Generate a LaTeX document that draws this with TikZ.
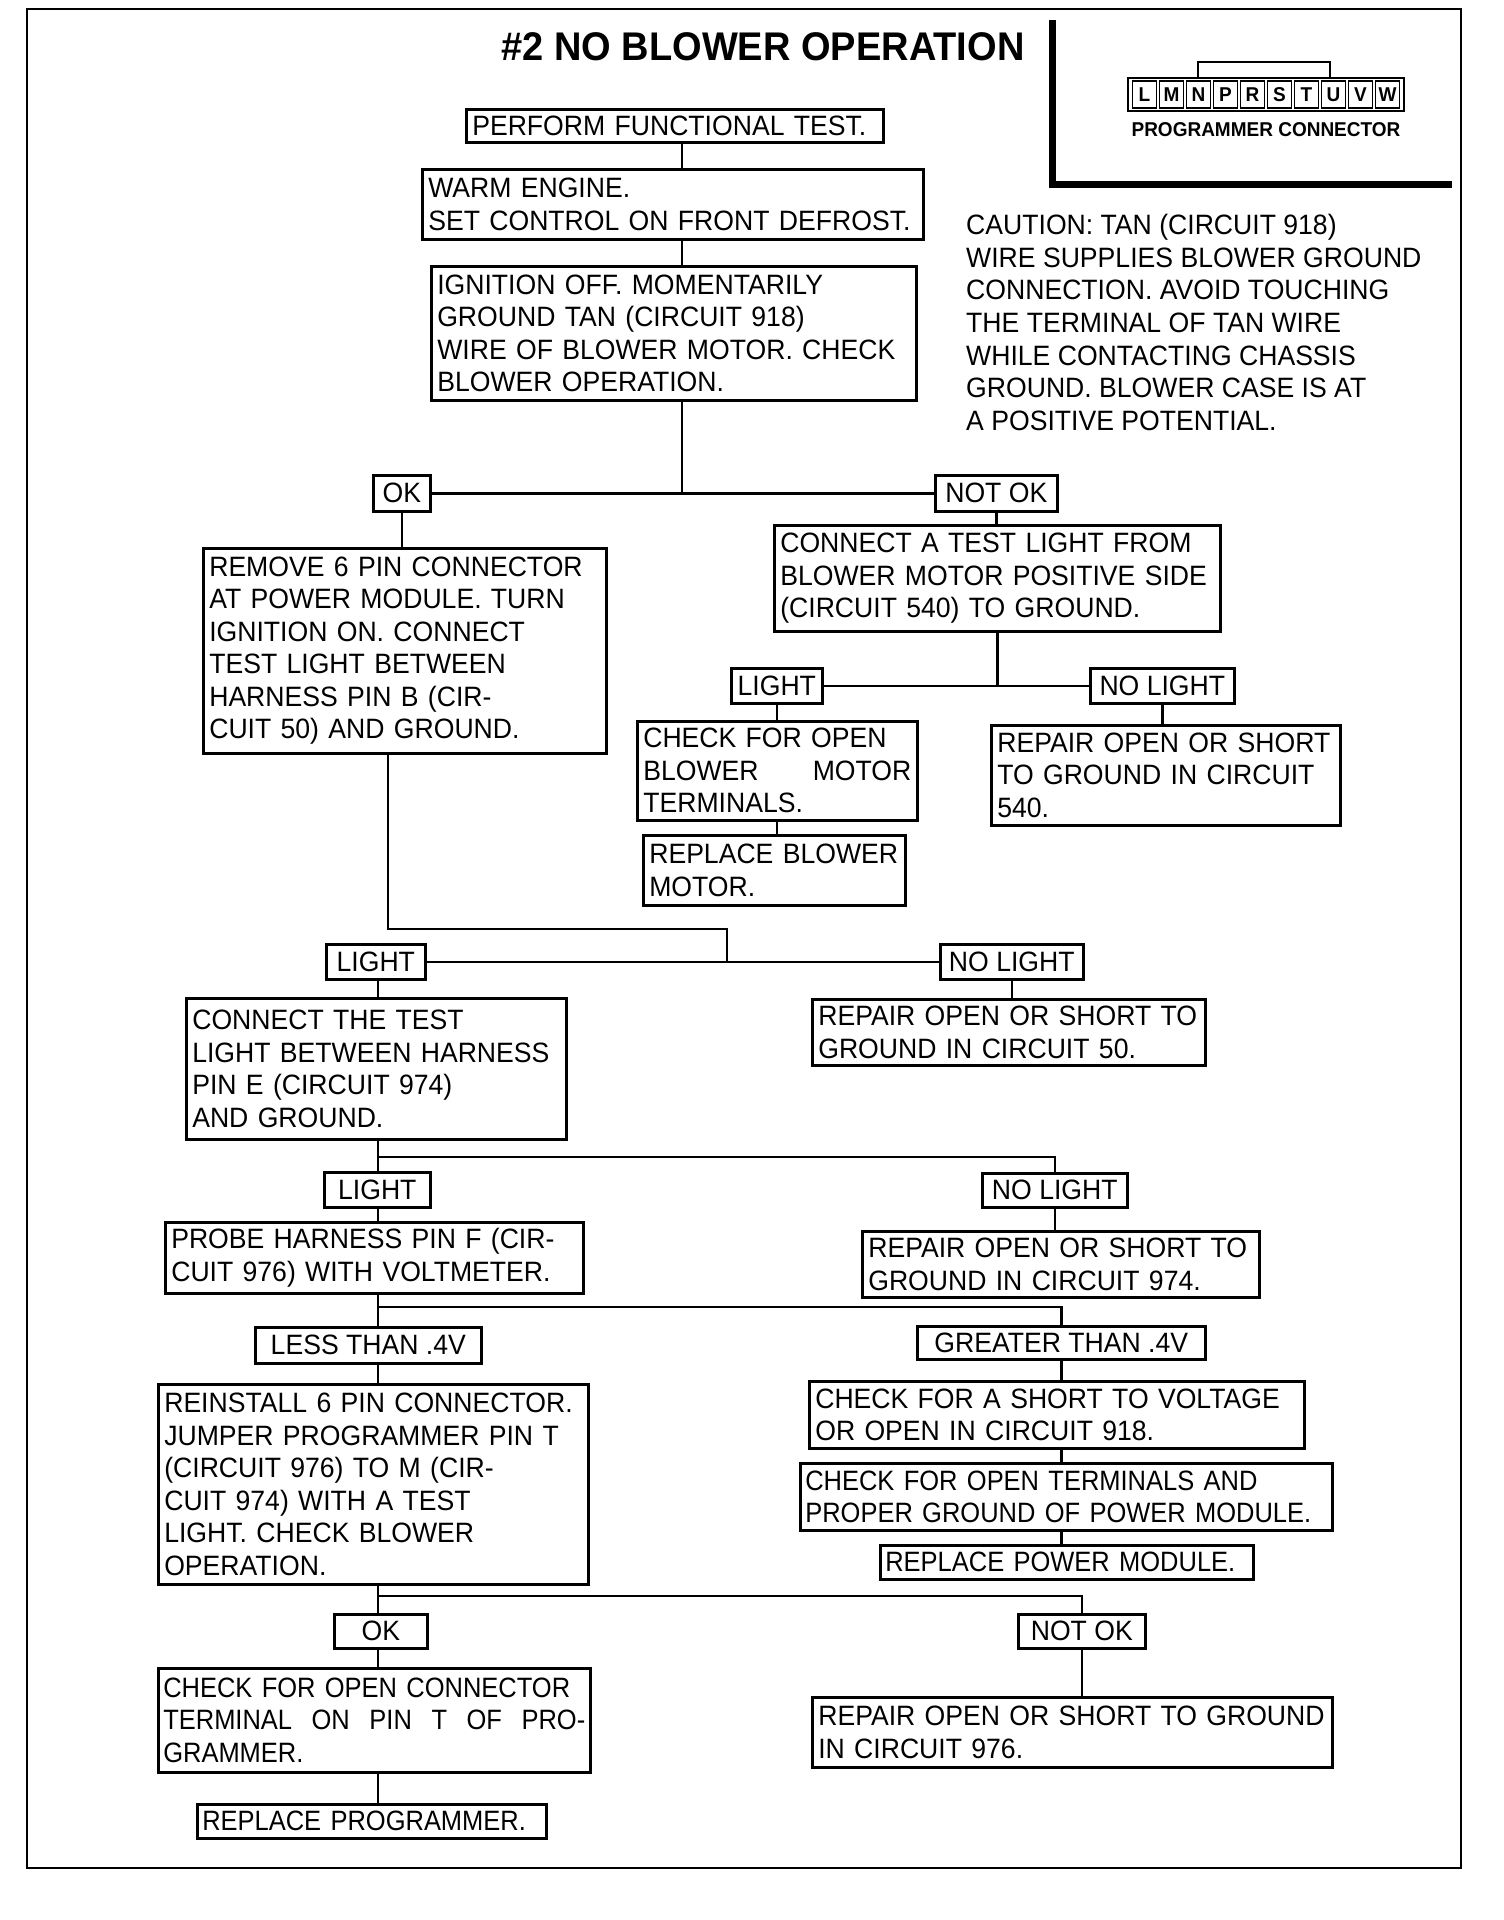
\documentclass[tikz,border=0pt]{standalone}
\usepackage{fontspec}
\setmainfont{Liberation Sans}[FakeStretch=0.95]
\newfontfamily\narrowfont{Liberation Sans}[FakeStretch=0.91]
\newcommand\nohyph{\hyphenpenalty=10000\relax}
\usetikzlibrary{positioning}

\begin{document}
\begin{tikzpicture}[x=1pt, y=-1pt,
    act/.style={draw, line width=2.6pt, anchor=north west, align=left,
                inner xsep=6pt, inner ysep=3pt,
                font=\fontsize{28}{32.5}\selectfont,
                execute at begin node=\nohyph},
    tight/.style={act, inner xsep=5pt,
                  font=\narrowfont\fontsize{28}{32.5}\selectfont},
    tag/.style={draw, line width=2.6pt, anchor=north west, align=center,
                inner sep=2pt, font=\fontsize{28}{32.5}\selectfont},
    pin/.style={draw, line width=1.2pt, minimum width=24pt,
                minimum height=27pt, inner sep=0pt,
                font=\fontsize{20}{22}\selectfont\bfseries},
    wire/.style={line width=2.6pt},
  ]
  \useasboundingbox (0,0) rectangle (1504,1920);
  \draw[line width=2.6pt] (27,9) rectangle (1461,1868);

  \node[font=\fontsize{40}{44}\selectfont\bfseries] (title) at (763,47)
    {\#2 NO BLOWER OPERATION};

  % programmer connector panel
  \draw[line width=7pt] (1052,20) -- (1052,184) -- (1452,184);
  \draw[line width=1.6pt] (1198,62) rectangle (1330,78);
  \draw[line width=1.6pt] (1128,78) rectangle (1404,111);
  \foreach \l [count=\i] in {L,M,N,P,R,S,T,U,V,W}
    \node[pin] (pin\l) at ({1131+13.5+27*(\i-1)},94.5) {\l};
  \node[font=\fontsize{20}{22}\selectfont\bfseries] (pinlbl) at (1266,130)
    {PROGRAMMER CONNECTOR};

  \node[anchor=north west, align=left, inner sep=0pt,
        font=\fontsize{28}{32.7}\selectfont] (caution) at (966,214)
    {CAUTION: TAN (CIRCUIT 918)\\WIRE SUPPLIES BLOWER GROUND\\
     CONNECTION. AVOID TOUCHING\\THE TERMINAL OF TAN WIRE\\
     WHILE CONTACTING CHASSIS\\GROUND. BLOWER CASE IS AT\\
     A POSITIVE POTENTIAL.};

  \node[act, text width=405pt, minimum height=33pt] (perform) at (465,108)
    {PERFORM FUNCTIONAL TEST.};
  \node[act, text width=489pt, minimum height=70pt] (warm) at (421,168)
    {WARM ENGINE.\\SET CONTROL ON FRONT DEFROST.};
  \node[act, text width=473pt, minimum height=134pt] (ignition) at (430,265)
    {IGNITION OFF. MOMENTARILY\\GROUND TAN (CIRCUIT 918)\\
     WIRE OF BLOWER MOTOR. CHECK\\BLOWER OPERATION.};

  \node[tag, minimum width=57pt, minimum height=36pt] (ok1) at (372,474) {OK};
  \node[tag, minimum width=122pt, minimum height=36pt] (notok1) at (934,474) {NOT OK};

  \node[act, text width=391pt, minimum height=205pt] (remove) at (202,547)
    {REMOVE 6 PIN CONNECTOR\\AT POWER MODULE. TURN\\IGNITION ON. CONNECT\\
     TEST LIGHT BETWEEN\\HARNESS PIN B (CIR-\\CUIT 50) AND GROUND.};
  \node[act, text width=434pt, minimum height=106pt] (connect1) at (773,524)
    {CONNECT A TEST LIGHT FROM\\BLOWER MOTOR POSITIVE SIDE\\
     (CIRCUIT 540) TO GROUND.};

  \node[tag, minimum width=91pt, minimum height=35pt] (light1) at (730,667) {LIGHT};
  \node[tag, minimum width=144pt, minimum height=35pt] (nolight1) at (1089,667) {NO LIGHT};

  \node[act, text width=268pt, minimum height=99pt] (checkopen) at (636,720)
    {CHECK FOR OPEN\\\makebox[\hsize]{BLOWER\hfill MOTOR}\\TERMINALS.};
  \node[act, text width=250pt, minimum height=70pt] (replblower) at (642,834)
    {REPLACE BLOWER\\MOTOR.};
  \node[act, text width=337pt, minimum height=100pt] (repair540) at (990,724)
    {REPAIR OPEN OR SHORT\\TO GROUND IN CIRCUIT\\540.};

  \node[tag, minimum width=99pt, minimum height=35pt] (light2) at (325,943) {LIGHT};
  \node[tag, minimum width=143pt, minimum height=35pt] (nolight2) at (939,943) {NO LIGHT};

  \node[act, text width=368pt, minimum height=141pt] (connect2) at (185,997)
    {CONNECT THE TEST\\LIGHT BETWEEN HARNESS\\PIN E (CIRCUIT 974)\\AND GROUND.};
  \node[act, text width=381pt, minimum height=66pt] (repair50) at (811,998)
    {REPAIR OPEN OR SHORT TO\\GROUND IN CIRCUIT 50.};

  \node[tag, minimum width=106pt, minimum height=35pt] (light3) at (323,1171) {LIGHT};
  \node[tag, minimum width=145pt, minimum height=34pt] (nolight3) at (981,1172) {NO LIGHT};

  \node[act, text width=406pt, minimum height=71pt] (probe) at (164,1221)
    {PROBE HARNESS PIN F (CIR-\\CUIT 976) WITH VOLTMETER.};
  \node[act, text width=385pt, minimum height=66pt] (repair974) at (861,1230)
    {REPAIR OPEN OR SHORT TO\\GROUND IN CIRCUIT 974.};

  \node[tag, minimum width=226pt, minimum height=36pt] (less) at (254,1326) {LESS THAN .4V};
  \node[tag, minimum width=288pt, minimum height=33pt] (greater) at (916,1325) {GREATER THAN .4V};

  \node[act, text width=418pt, minimum height=200pt] (reinstall) at (157,1383)
    {REINSTALL 6 PIN CONNECTOR.\\JUMPER PROGRAMMER PIN T\\
     (CIRCUIT 976) TO M (CIR-\\CUIT 974) WITH A TEST\\
     LIGHT. CHECK BLOWER\\OPERATION.};
  \node[act, text width=483pt, minimum height=67pt] (shortv) at (808,1380)
    {CHECK FOR A SHORT TO VOLTAGE\\OR OPEN IN CIRCUIT 918.};
  \node[tight, text width=522pt, minimum height=67pt] (openterm) at (799,1462)
    {CHECK FOR OPEN TERMINALS AND\\PROPER GROUND OF POWER MODULE.};
  \node[tight, text width=363pt, minimum height=34pt] (replmod) at (879,1544)
    {REPLACE POWER MODULE.};

  \node[tag, minimum width=93pt, minimum height=34pt] (ok2) at (333,1613) {OK};
  \node[tag, minimum width=127pt, minimum height=34pt] (notok2) at (1017,1613) {NOT OK};

  \node[tight, text width=422pt, minimum height=104pt] (checkconn) at (157,1667)
    {CHECK FOR OPEN CONNECTOR\\
     \makebox[\hsize]{TERMINAL\hfill ON\hfill PIN\hfill T\hfill OF\hfill PRO-}\\GRAMMER.};
  \node[act, text width=508pt, minimum height=70pt] (repair976) at (811,1696)
    {REPAIR OPEN OR SHORT TO GROUND\\IN CIRCUIT 976.};
  \node[tight, text width=339pt, minimum height=34pt] (replprog) at (196,1803)
    {REPLACE PROGRAMMER.};

  \coordinate (fork1) at (682,492);
  \coordinate (drop) at (388,929);
  \coordinate (bend) at (727,929);
  \coordinate (spine) at (378,0);
  \coordinate (fork3) at (378,1157);
  \coordinate (fork4) at (378,1307);
  \coordinate (fork5) at (378,1596);

  \draw[wire] (perform.south -| fork1) -- (warm.north -| fork1);
  \draw[wire] (warm.south -| fork1) -- (ignition.north -| fork1);
  \draw[wire] (ignition.south -| fork1) -- (fork1);
  \draw[wire] (ok1.east) -- (notok1.west);
  \draw[wire] (ok1.south) -- (ok1.south |- remove.north);
  \draw[wire] (notok1.south) -- (notok1.south |- connect1.north);

  \draw[wire] (connect1.south) -- (connect1.south |- light1.east);
  \draw[wire] (light1.east) -- (nolight1.west);
  \draw[wire] (light1.south) -- (light1.south |- checkopen.north);
  \draw[wire] (checkopen.south -| light1) -- (replblower.north -| light1);
  \draw[wire] (nolight1.south) -- (nolight1.south |- repair540.north);

  \draw[wire] (remove.south -| drop) -- (drop) -- (bend) -- (bend |- light2.east);
  \draw[wire] (light2.east) -- (nolight2.west);
  \draw[wire] (light2.south -| spine) -- (connect2.north -| spine);
  \draw[wire] (nolight2.south) -- (nolight2.south |- repair50.north);

  \draw[wire] (connect2.south -| spine) -- (light3.north -| spine);
  \draw[wire] (fork3) -| (nolight3.north);
  \draw[wire] (light3.south -| spine) -- (probe.north -| spine);
  \draw[wire] (nolight3.south) -- (nolight3.south |- repair974.north);

  \draw[wire] (probe.south -| spine) -- (less.north -| spine);
  \draw[wire] (fork4) -| (greater.north);
  \draw[wire] (less.south -| spine) -- (reinstall.north -| spine);
  \draw[wire] (greater.south) -- (greater.south |- shortv.north);
  \draw[wire] (shortv.south -| greater) -- (openterm.north -| greater);
  \draw[wire] (openterm.south -| greater) -- (replmod.north -| greater);

  \draw[wire] (reinstall.south -| spine) -- (ok2.north -| spine);
  \draw[wire] (fork5) -| (notok2.north);
  \draw[wire] (ok2.south -| spine) -- (checkconn.north -| spine);
  \draw[wire] (checkconn.south -| spine) -- (replprog.north -| spine);
  \draw[wire] (notok2.south) -- (notok2.south |- repair976.north);
\end{tikzpicture}
\end{document}
